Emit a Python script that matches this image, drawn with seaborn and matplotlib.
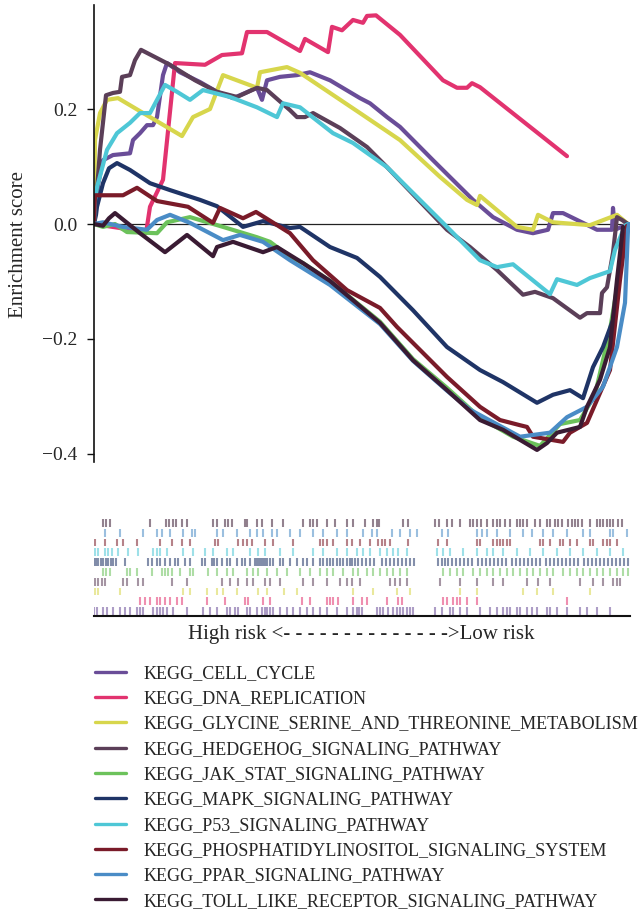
import numpy as np
import pandas as pd
import matplotlib
matplotlib.use("Agg")
import matplotlib.pyplot as plt
import seaborn as sns

# ---- running enrichment scores (rank position in ranked gene list, ES) ----
pathways = [
    "KEGG_CELL_CYCLE",
    "KEGG_DNA_REPLICATION",
    "KEGG_GLYCINE_SERINE_AND_THREONINE_METABOLISM",
    "KEGG_HEDGEHOG_SIGNALING_PATHWAY",
    "KEGG_JAK_STAT_SIGNALING_PATHWAY",
    "KEGG_MAPK_SIGNALING_PATHWAY",
    "KEGG_P53_SIGNALING_PATHWAY",
    "KEGG_PHOSPHATIDYLINOSITOL_SIGNALING_SYSTEM",
    "KEGG_PPAR_SIGNALING_PATHWAY",
    "KEGG_TOLL_LIKE_RECEPTOR_SIGNALING_PATHWAY",
]
colors = ["#6a4d98", "#e2336f", "#d7d64c", "#5b3f58", "#6cc25b",
          "#1f3466", "#4ec7d6", "#7a1b29", "#4a8cc6", "#3a1b33"]

cell_cycle_x = [0, 40, 90, 190, 360, 390, 460, 530, 590, 630, 690, 730, 860, 1060, 1230, 1390, 1460, 1630, 1680, 1730,
                1860, 2030, 2160, 2360, 2660, 2760, 2930, 3060, 3390, 3790, 3990, 4230, 4390, 4540, 4590, 4690, 4890,
                5030, 5180, 5190, 5210, 5340]
cell_cycle_es = [0, 0.068, 0.111, 0.120, 0.123, 0.146, 0.158, 0.172, 0.172, 0.186, 0.259, 0.280, 0.264, 0.247, 0.230,
                 0.219, 0.224, 0.237, 0.216, 0.250, 0.256, 0.259, 0.264, 0.250, 0.219, 0.210, 0.186, 0.169, 0.111,
                 0.042, 0.012, -0.010, -0.016, -0.010, 0.019, 0.019, 0.002, -0.010, -0.010, 0.028, -0.010, 0]

dna_rep_x = [0, 260, 520, 560, 690, 810, 1110, 1280, 1480, 1530, 1730, 2060, 2110, 2340, 2380, 2480, 2590, 2690, 2730,
             2820, 3060, 3490, 3630, 3730, 3780, 3860, 4730]
dna_rep_es = [0, -0.007, -0.016, 0.030, 0.077, 0.280, 0.277, 0.294, 0.297, 0.334, 0.334, 0.301, 0.322, 0.299, 0.343,
              0.337, 0.355, 0.350, 0.362, 0.363, 0.329, 0.250, 0.237, 0.237, 0.245, 0.238, 0.118]

glycine_x = [0, 10, 60, 130, 240, 880, 990, 1160, 1290, 1630, 1660, 1930, 2060, 2360, 2660, 3060, 3460, 3730, 3830,
             3860, 4230, 4390, 4440, 4590, 4960, 5230, 5340]
glycine_es = [0, 0.146, 0.193, 0.216, 0.219, 0.153, 0.186, 0.200, 0.259, 0.237, 0.264, 0.273, 0.263, 0.228, 0.193,
              0.146, 0.082, 0.042, 0.033, 0.049, -0.005, -0.010, 0.016, 0.003, -0.002, 0.016, 0]

hedgehog_x = [0, 30, 60, 120, 190, 260, 280, 360, 410, 470, 760, 1010, 1230, 1430, 1630, 1730, 1960, 2030, 2110, 2190,
              2460, 2730, 2930, 3530, 3760, 4030, 4290, 4410, 4590, 4860, 4930, 5060, 5080, 5130, 5190, 5230, 5280, 5340]
hedgehog_es = [0, 0.059, 0.129, 0.224, 0.228, 0.230, 0.256, 0.259, 0.285, 0.303, 0.277, 0.250, 0.230, 0.221, 0.237,
               0.233, 0.198, 0.186, 0.186, 0.193, 0.167, 0.134, 0.099, -0.010, -0.040, -0.080, -0.123, -0.118, -0.129,
               -0.163, -0.155, -0.155, -0.120, -0.110, -0.050, 0.012, 0.007, 0]

jak_stat_x = [0, 90, 210, 330, 630, 730, 960, 1290, 1630, 1760, 1960, 2090, 2360, 2860, 3190, 3530, 3860, 4190, 4460,
              4660, 4860, 5010, 5160, 5260, 5330]
jak_stat_es = [0, -0.005, 0, -0.014, -0.016, 0.003, 0.012, -0.005, -0.023, -0.031, -0.057, -0.068, -0.099, -0.170,
               -0.235, -0.285, -0.337, -0.370, -0.386, -0.348, -0.341, -0.297, -0.184, -0.080, -0.003]

mapk_x = [0, 20, 30, 90, 150, 230, 360, 560, 760, 1060, 1230, 1490, 1690, 1960, 2060, 2360, 2630, 2860, 3190, 3530,
          3860, 4090, 4430, 4590, 4760, 4890, 4990, 5090, 5190, 5260, 5330]
mapk_es = [0, 0.016, 0.030, 0.071, 0.097, 0.106, 0.094, 0.071, 0.059, 0.042, 0.031, -0.005, 0.005, -0.007, -0.005,
           -0.040, -0.059, -0.092, -0.150, -0.214, -0.254, -0.275, -0.311, -0.297, -0.289, -0.303, -0.249, -0.214,
           -0.167, -0.080, 0]

p53_x = [0, 10, 30, 130, 230, 360, 460, 560, 710, 830, 960, 1090, 1360, 1630, 1830, 1890, 2060, 2390, 2590, 2930,
         3530, 3860, 4030, 4190, 4560, 4630, 4830, 4960, 5160, 5210, 5310, 5340]
p53_es = [0, 0.042, 0.064, 0.129, 0.158, 0.176, 0.193, 0.193, 0.242, 0.230, 0.216, 0.233, 0.221, 0.203, 0.186, 0.210,
          0.203, 0.158, 0.141, 0.099, -0.005, -0.063, -0.075, -0.070, -0.122, -0.096, -0.106, -0.094, -0.082, -0.045,
          -0.003, 0]

phos_x = [0, 10, 290, 430, 630, 940, 1190, 1260, 1490, 1620, 1960, 2190, 2530, 2860, 3030, 3530, 3860, 4060, 4260,
          4330, 4390, 4690, 4760, 4930, 5060, 5160, 5260, 5330]
phos_es = [0, 0.050, 0.050, 0.063, 0.040, 0.030, 0.002, 0.028, 0.010, 0.021, -0.016, -0.063, -0.115, -0.146, -0.179,
           -0.266, -0.318, -0.341, -0.350, -0.353, -0.370, -0.379, -0.363, -0.346, -0.294, -0.254, -0.097, -0.003]

ppar_x = [0, 90, 290, 530, 630, 760, 960, 1290, 1460, 1690, 1960, 2360, 2860, 3190, 3530, 3760, 4260, 4560, 4730,
          4930, 5090, 5230, 5310, 5340, 5350]
ppar_es = [0, 0.003, -0.005, -0.010, 0.007, 0.016, 0.002, -0.028, -0.019, -0.031, -0.063, -0.106, -0.174, -0.238,
           -0.290, -0.323, -0.370, -0.363, -0.336, -0.318, -0.283, -0.214, -0.137, -0.010, 0]

toll_x = [0, 90, 150, 210, 460, 710, 930, 1190, 1230, 1390, 1690, 1830, 2090, 2360, 2860, 3190, 3530, 3860, 4090,
          4430, 4530, 4630, 4860, 4930, 5060, 5160, 5230, 5290]
toll_es = [0, -0.003, 0.010, 0.019, -0.016, -0.049, -0.019, -0.056, -0.040, -0.031, -0.049, -0.040, -0.068, -0.099,
           -0.172, -0.237, -0.289, -0.341, -0.358, -0.393, -0.381, -0.363, -0.353, -0.318, -0.271, -0.214, -0.097,
           -0.005]

# ---- gene-set member positions in the ranked list (hit ticks) ----
cell_cycle_hits = [0, 30, 90, 130, 190, 260, 310, 360, 430, 460, 490, 590, 630, 660, 690, 730, 790, 930, 1090, 1160,
                   1230, 1330, 1360, 1410, 1440, 1530, 1560, 1630, 1680, 1710, 1730, 1760, 1790, 1860, 1930, 1990,
                   2060, 2130, 2190, 2260, 2330, 2430, 2530, 2590, 2630, 2650, 2680, 2830, 2860, 2890, 2940, 2990,
                   3030, 3060, 3090, 3130, 3160, 3190, 3410, 3480, 3560, 3590, 3660, 3730, 3860, 3960, 4030, 4090,
                   4130, 4160, 4230, 4260, 4330, 4380, 4430, 4530, 4560, 4630, 4730, 4860, 4930, 5030, 5160]
dna_rep_hits = [460, 510, 560, 630, 660, 710, 760, 830, 880, 1130, 1310, 1510, 1540, 1690, 1760, 2080, 2160, 2330,
                2360, 2390, 2440, 2590, 2680, 2730, 2930, 3040, 3080, 3490, 3530, 3590, 3630, 3660, 3730, 3830, 4730]
glycine_hits = [10, 40, 260, 890, 960, 1130, 1230, 1290, 1430, 1640, 1730, 1900, 2030, 2590, 2790, 3030, 3160, 3660,
                3830, 4290, 4430, 4590, 4960]
hedgehog_hits = [10, 40, 80, 110, 290, 330, 440, 490, 780, 930, 1280, 1360, 1440, 1530, 1590, 1710, 1760, 1860, 2090,
                 2190, 2330, 2460, 2530, 2580, 2660, 2960, 3010, 3060, 3130, 3460, 3660, 3830, 3990, 4090, 4330, 4440,
                 4560, 4860, 4990, 5090, 5190, 5230, 5260]
jak_stat_hits = [90, 120, 160, 330, 360, 430, 580, 680, 710, 740, 780, 860, 960, 990, 1140, 1230, 1330, 1390, 1530,
                 1590, 1640, 1730, 1830, 1930, 2060, 2160, 2260, 2330, 2390, 2490, 2590, 2640, 2730, 2790, 2860, 2930,
                 2990, 3060, 3130, 3490, 3560, 3630, 3690, 3790, 3860, 3930, 3990, 4060, 4130, 4190, 4260, 4330, 4390,
                 4460, 4530, 4590, 4690, 4760, 4830, 4890, 4960, 5030, 5090, 5160, 5230, 5290, 5340]
mapk_hits = [0, 20, 40, 70, 90, 120, 140, 170, 190, 220, 310, 540, 580, 630, 660, 710, 760, 810, 840, 910, 960, 1080,
             1110, 1180, 1200, 1230, 1280, 1330, 1360, 1430, 1480, 1510, 1560, 1610, 1630, 1650, 1670, 1690, 1710, 1730,
             1760, 1790, 1860, 1890, 1960, 2030, 2090, 2130, 2190, 2260, 2290, 2330, 2360, 2390, 2430, 2460, 2490,
             2530, 2560, 2580, 2610, 2640, 2680, 2720, 2760, 2800, 2880, 2920, 2960, 3000, 3040, 3080, 3120, 3160,
             3200, 3440, 3480, 3510, 3540, 3580, 3620, 3660, 3700, 3740, 3780, 3840, 3880, 3920, 3960, 4000, 4040,
             4080, 4120, 4180, 4220, 4260, 4300, 4340, 4380, 4420, 4460, 4520, 4560, 4600, 4640, 4680, 4720, 4760,
             4800, 4840, 4900, 4940, 4980, 5020, 5060, 5100, 5140, 5180, 5220, 5260, 5300, 5340]
p53_hits = [10, 40, 110, 140, 180, 240, 340, 440, 590, 630, 660, 730, 890, 990, 1110, 1190, 1330, 1390, 1560, 1640,
            1710, 1860, 1990, 2190, 2290, 2430, 2530, 2630, 2690, 2760, 2860, 2930, 2990, 3040, 3130, 3430, 3490,
            3560, 3690, 3830, 3930, 3990, 4090, 4230, 4360, 4490, 4630, 4760, 4890, 5030, 5160, 5290]
phos_hits = [10, 110, 230, 290, 430, 660, 780, 880, 960, 1210, 1240, 1440, 1490, 1530, 1580, 1710, 1790, 1990, 2260,
             2290, 2330, 2390, 2530, 2580, 2660, 2760, 2840, 2880, 2910, 2960, 3140, 3440, 3530, 3830, 3860, 3990,
             4030, 4060, 4090, 4130, 4160, 4460, 4490, 4560, 4660, 4690, 4760, 4830, 4960, 4990, 5090, 5130, 5160,
             5230]
ppar_hits = [110, 260, 490, 630, 680, 760, 890, 980, 1010, 1230, 1290, 1430, 1560, 1630, 1690, 1780, 1830, 1960, 2060,
             2190, 2290, 2430, 2530, 2690, 2780, 2830, 2980, 3060, 3160, 3230, 3480, 3540, 3830, 3880, 3930, 4030,
             4160, 4290, 4380, 4490, 4590, 4730, 4890, 4960, 5160, 5190, 5330]
toll_hits = [90, 120, 160, 560, 720, 750, 790, 820, 880, 930, 1190, 1230, 1310, 1340, 1380, 1510, 1530, 1630, 1680,
             1780, 1890, 2090, 2160, 2190, 2230, 2330, 2410, 2530, 2590, 2710, 2790, 2830, 2850, 3090, 3140, 3410,
             3450, 3530, 3580, 3660, 3760, 3790, 3830, 3870, 3930, 3990, 4030, 4060, 4110, 4160, 4230, 4260, 4290,
             4330, 4410, 4460, 4530, 4560, 4610, 4640, 4680, 4740, 4780, 4810, 4840, 4880, 4960, 5030, 5060, 5090,
             5130, 5160, 5190, 5240, 5280]

n_genes = 5360
yticks = [0.2, 0.0, -0.2, -0.4]

curves = [(cell_cycle_x, cell_cycle_es), (dna_rep_x, dna_rep_es), (glycine_x, glycine_es),
          (hedgehog_x, hedgehog_es), (jak_stat_x, jak_stat_es), (mapk_x, mapk_es), (p53_x, p53_es),
          (phos_x, phos_es), (ppar_x, ppar_es), (toll_x, toll_es)]
hits = [cell_cycle_hits, dna_rep_hits, glycine_hits, hedgehog_hits, jak_stat_hits, mapk_hits, p53_hits,
        phos_hits, ppar_hits, toll_hits]

palette = dict(zip(pathways, colors))

sns.set_theme(style="white")
plt.rcParams["font.family"] = ["Liberation Serif", "DejaVu Serif"]
plt.rcParams["axes.unicode_minus"] = True

W, H = 641, 919
fig = plt.figure(figsize=(W / 100, H / 100), dpi=100)

# running-score panel
ax = fig.add_axes([94 / W, 1 - 462 / H, 536 / W, 457 / H])
ax.axhline(0, color="#222222", lw=0.9, zorder=1)
for name, (xs, es) in zip(pathways, curves):
    curve = pd.DataFrame({"rank": xs, "es": es})
    sns.lineplot(data=curve, x="rank", y="es", color=palette[name], lw=3.0, estimator=None,
                 sort=False, ax=ax, zorder=2)
ax.set_xlim(0, n_genes)
ax.set_ylim(-0.414, 0.381)
ax.set_yticks(yticks)
ax.set_yticklabels([f"{v:.1f}".replace("-", "\u2212") for v in yticks])
ax.set_xticks([])
ax.set_xlabel("")
ax.set_ylabel("Enrichment score", fontsize=15)
ax.yaxis.set_label_coords(-0.124, 0.475)
for side in ["top", "right", "bottom"]:
    ax.spines[side].set_visible(False)
ax.spines["left"].set_color("#111111")
ax.spines["left"].set_linewidth(1.2)
ax.tick_params(axis="y", left=True, length=5, width=1.0, pad=7, labelsize=14, color="#111111")
ax.set_facecolor("none")

# hit-position rug panel
rax = fig.add_axes([94 / W, 1 - 616 / H, 536 / W, 98 / H])
for row, (name, pos) in enumerate(zip(pathways, hits)):
    rax.vlines(pos, row + 0.1, row + 0.9, color=palette[name], alpha=0.55, lw=1.5)
rax.set_xlim(0, n_genes)
rax.set_ylim(0, len(pathways))
rax.set_xticks([])
rax.set_yticks([])
for side in ["top", "right", "left"]:
    rax.spines[side].set_visible(False)
rax.spines["bottom"].set_color("#111111")
rax.spines["bottom"].set_linewidth(1.5)
rax.set_facecolor("none")

fig.text(361 / W, 1 - 634 / H, "High risk <- - - - - - - - - - - - - ->Low risk",
         ha="center", va="center", fontsize=15)

handles = [plt.Line2D([], [], color=palette[n], lw=2.4) for n in pathways]
fig.legend(handles, pathways, loc="upper left", bbox_to_anchor=(95 / W, 1 - 665 / H), frameon=False,
           fontsize=13, handlelength=1.7, handletextpad=1.0, labelspacing=0.46, borderpad=0,
           borderaxespad=0)

fig.savefig("out.png", dpi=100, facecolor="white")
